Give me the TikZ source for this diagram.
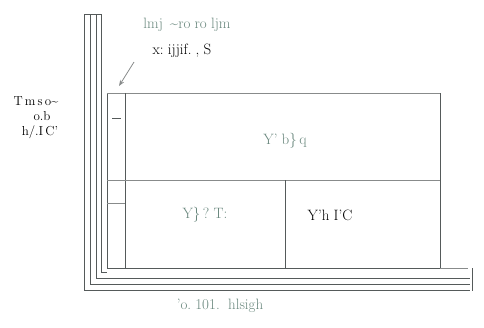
\documentclass[tikz,border=0pt]{standalone}
\usepackage{xcolor}
\usetikzlibrary{arrows, arrows.meta, positioning, calc}
\definecolor{inkgray}{RGB}{85,90,90}
\definecolor{palegreen}{RGB}{105,135,125}
\begin{document}
\begin{tikzpicture}[x=1pt,y=-1pt]
			\tikzset{wall/.style={draw=inkgray, line width=1pt},
				thin wall/.style={draw=inkgray!70, line width=0.7pt},
				scrawl/.style={font=\fontsize{15}{17}\selectfont, inner sep=1pt},
				faint/.style={scrawl, text=palegreen},
				side/.style={font=\fontsize{13}{14}\selectfont, inner sep=0pt}}
			\useasboundingbox (0,0) rectangle (484,327);
			% the frame
			\draw[wall] (84,14) -- (84,290) -- (470,290);
			\draw[wall] (90,14) -- (90,284) -- (470,284);
			\draw[wall] (96,14) -- (96,278) -- (470,278);
			\draw[wall] (101,14) -- (101,272) -- (107,272);
			\draw[wall] (84,14) -- (101,14);
			\draw[wall] (472,268) -- (472,291);
			% the blocks
			\coordinate (tl) at (125,93);
			\coordinate (br) at (440,268);
			\draw[wall] (107,93) -- (107,268) -- (br);
			\draw[thin wall] (107,93) -- (440,93);
			\draw[wall] (tl) -- (125,268);
			\draw[wall] (440,93) -- (br);
			\draw[thin wall] (107,180) -- (440,180);
			\draw[wall] (285,180) -- (285,268);
			\draw[thin wall] (107,203) -- (125,203);
			\draw[wall] (112,118) -- (121,118);
			\draw[thin wall] (440,268) -- (468,268);
			% labels
			\node[faint] (l1) at (187,25) {lmj\, \textasciitilde{}ro\;ro\;ljm};
			\node[scrawl] (l2) at (182,51) {x:\;ijjif.\;,\;S};
			\node[side] (side1) at (36,101) {T\,m\,s\,o\textasciitilde};
			\node[side] (side2) at (42,116) {o.b};
			\node[side] (side3) at (40,132) {h/.I\,C'};
			\node[faint] (top) at (285,141) {Y'\;b\}\,q};
			\node[faint] (left) at (205,215) {Y\}\,?\;T:};
			\node[scrawl] (right) at (330,215) {Y'h\;I'C};
			\node[faint] (base) at (220,306) {'o.\;101.\;\;hlsigh};
			\coordinate (from) at (134,62);
			\coordinate (tip) at (119,86);
			\draw[inkgray!70, line width=0.8pt, -{Stealth[length=6pt]}] (from) -- (tip);
		\end{tikzpicture}
\end{document}
